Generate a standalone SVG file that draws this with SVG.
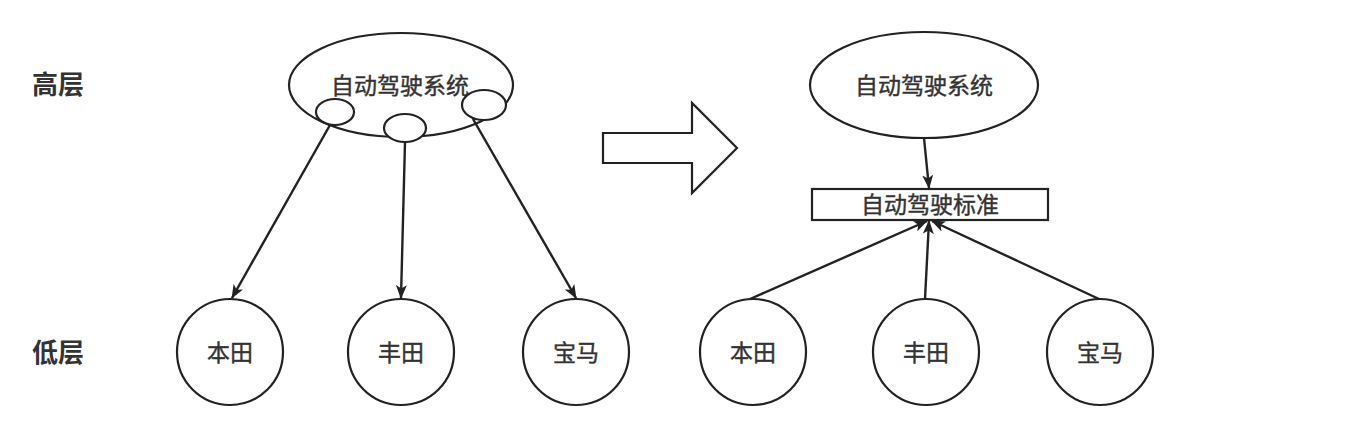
<svg xmlns="http://www.w3.org/2000/svg" width="1347" height="421" viewBox="0 0 1347 421">
<style>
.s{fill:#fff;stroke:#222;stroke-width:2.2}
.t{font-family:"Liberation Sans","Noto Sans CJK SC",sans-serif;font-size:23px;fill:#333;stroke:#333;stroke-width:0.4;text-anchor:middle;dominant-baseline:central}
.l{font-family:"Liberation Sans","Noto Sans CJK SC",sans-serif;font-size:26px;fill:#333;font-weight:bold}
.c{stroke:#222;stroke-width:2.4;fill:none;marker-end:url(#a)}
</style>
<defs>
<marker id="a" viewBox="0 0 14 11" refX="13" refY="5.5" markerWidth="14" markerHeight="11" markerUnits="userSpaceOnUse" orient="auto">
<path d="M0,0 L14,5.5 L0,11 L3.5,5.5 z" fill="#222"/>
</marker>
</defs>
<g id="label-high"><text class="l" x="32" y="94">高层</text></g>
<g id="label-low"><text class="l" x="32" y="362">低层</text></g>
<g id="sys-left">
<ellipse class="s" cx="401" cy="85" rx="112" ry="52"/>
<text class="t" x="400" y="86">自动驾驶系统</text>
<ellipse class="s" cx="335" cy="112" rx="19" ry="13"/>
<ellipse class="s" cx="405" cy="128" rx="21" ry="14"/>
<ellipse class="s" cx="484" cy="105" rx="22" ry="15"/>
</g>
<g id="honda-left"><circle class="s" cx="230" cy="352" r="53"/><text class="t" x="230" y="353">本田</text></g>
<g id="toyota-left"><circle class="s" cx="401" cy="352" r="53"/><text class="t" x="401" y="353">丰田</text></g>
<g id="bmw-left"><circle class="s" cx="576" cy="352" r="53"/><text class="t" x="576" y="353">宝马</text></g>
<g id="big-arrow"><path class="s" d="M603,133 L692,133 L692,103 L737,148 L692,193 L692,163 L603,163 Z"/></g>
<g id="sys-right">
<ellipse class="s" cx="924" cy="85" rx="114" ry="53"/>
<text class="t" x="924" y="86">自动驾驶系统</text>
</g>
<g id="standard"><rect class="s" x="812" y="189" width="236" height="31"/><text class="t" x="930" y="205">自动驾驶标准</text></g>
<g id="honda-right"><circle class="s" cx="753" cy="352" r="53"/><text class="t" x="753" y="353">本田</text></g>
<g id="toyota-right"><circle class="s" cx="926" cy="352" r="53"/><text class="t" x="926" y="353">丰田</text></g>
<g id="bmw-right"><circle class="s" cx="1100" cy="352" r="53"/><text class="t" x="1100" y="353">宝马</text></g>
<g id="connectors">
<line class="c" x1="330" y1="125" x2="232" y2="298"/>
<line class="c" x1="405" y1="142" x2="401" y2="298"/>
<line class="c" x1="473" y1="119" x2="576" y2="298"/>
<line class="c" x1="924" y1="138" x2="929" y2="188"/>
<line class="c" x1="750" y1="299" x2="927" y2="221"/>
<line class="c" x1="925" y1="299" x2="929" y2="221"/>
<line class="c" x1="1099" y1="299" x2="932" y2="221"/>
</g>
</svg>
